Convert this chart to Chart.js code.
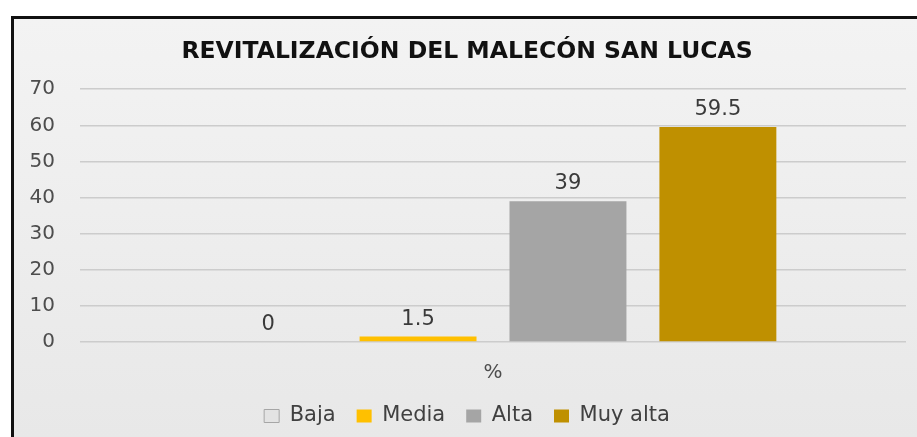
<!DOCTYPE html>
<html>
<head>
<meta charset="utf-8">
<script src="https://cdn.jsdelivr.net/npm/chart.js@4/dist/chart.umd.min.js"></script>
<style>
  html, body { margin: 0; padding: 0; background: #fff; }
  #frame {
    position: absolute; left: 11px; top: 16px;
    width: 903px; height: 418px;
    border-left: 3px solid #111; border-top: 3px solid #111;
    background: linear-gradient(#f3f3f3, #e8e8e8);
  }
  #frame canvas { display: block; }
</style>
</head>
<body>
<div id="frame"><canvas id="chart" width="903" height="418"></canvas></div>
<script>
// data
const categories = ['%'];
const seriesNames = ['Baja', 'Media', 'Alta', 'Muy alta'];
const seriesValues = [[0], [1.5], [39], [59.5]];
const yTicks = [0, 10, 20, 30, 40, 50, 60, 70];

const fills = ['#e3e3e3', '#ffc000', '#a5a5a5', '#bf9000'];
const borders = ['#a6a6a6', '#ffc000', '#a5a5a5', '#bf9000'];
const FONT = "'DejaVu Sans', sans-serif";

// draws the value above each bar
const valueLabels = {
  id: 'valueLabels',
  afterDatasetsDraw(chart) {
    const ctx = chart.ctx;
    ctx.save();
    ctx.font = '21px ' + FONT;
    ctx.fillStyle = '#3a3a3a';
    ctx.textAlign = 'center';
    ctx.textBaseline = 'alphabetic';
    chart.data.datasets.forEach((ds, i) => {
      chart.getDatasetMeta(i).data.forEach((bar, j) => {
        ctx.fillText(String(ds.data[j]), bar.x, bar.y - 12);
      });
    });
    ctx.restore();
  }
};

new Chart(document.getElementById('chart'), {
  type: 'bar',
  data: {
    labels: categories,
    datasets: seriesNames.map((name, i) => ({
      label: name,
      data: seriesValues[i],
      backgroundColor: fills[i],
      borderColor: borders[i],
      borderWidth: i === 0 ? 1 : 0,
      categoryPercentage: 0.726,
      barPercentage: 0.78
    }))
  },
  options: {
    responsive: false,
    animation: false,
    layout: { padding: { left: 14, right: 11, top: 0, bottom: 0.5 } },
    plugins: {
      title: {
        display: true,
        text: 'REVITALIZACIÓN DEL MALECÓN SAN LUCAS',
        color: '#111',
        font: { family: FONT, size: 23.5, weight: 'bold' },
        padding: { top: 19, bottom: 23 }
      },
      legend: {
        position: 'bottom',
        labels: {
          color: '#404040',
          font: { family: FONT, size: 21 },
          boxWidth: 15,
          boxHeight: 13,
          padding: 21
        }
      },
      tooltip: { enabled: false }
    },
    scales: {
      x: {
        afterFit: s => { s.height = 42.5; },
        grid: { display: false, drawTicks: false },
        border: { display: false },
        ticks: { color: '#4d4d4d', font: { family: FONT, size: 20 }, padding: 19 }
      },
      y: {
        min: 0,
        max: 70,
        afterBuildTicks: s => { s.ticks = yTicks.map(v => ({ value: v })); },
        afterFit: s => { s.width = 52; },
        grid: { color: '#cccccc', lineWidth: 1.5, drawTicks: false },
        border: { display: false },
        ticks: { color: '#4d4d4d', font: { family: FONT, size: 20 }, padding: 25 }
      }
    }
  },
  plugins: [valueLabels]
});
</script>
</body>
</html>
